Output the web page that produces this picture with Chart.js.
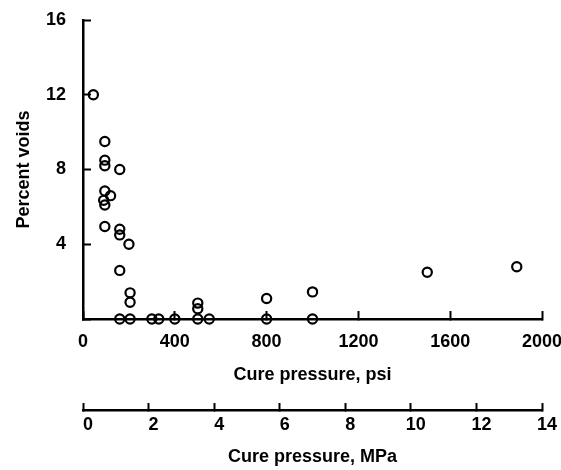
<!DOCTYPE html>
<html>
<head>
<meta charset="utf-8">
<script src="https://cdn.jsdelivr.net/npm/chart.js@4.4.1/dist/chart.umd.min.js"></script>
<style>
  html, body { margin: 0; padding: 0; background: #ffffff; }
  #wrap { width: 561px; height: 470px; }
</style>
</head>
<body>
<div id="wrap"><canvas id="c" width="561" height="470"></canvas></div>
<script>
// ---- data ----
const curePressurePsi = [45, 95, 95, 95, 160, 95, 120, 90, 95, 95, 160, 160, 200, 160, 205, 205,
  160, 205, 300, 330, 400, 500, 500, 500, 550, 800, 800, 1000, 1000, 1500, 1890];
const percentVoids = [12.0, 9.5, 8.5, 8.2, 8.0, 6.85, 6.6, 6.35, 6.1, 4.95, 4.8, 4.5, 4.0, 2.6, 1.4, 0.9,
  0, 0, 0, 0, 0, 0.85, 0.55, 0, 0, 1.1, 0, 1.45, 0, 2.5, 2.8];
const psiTickValues = [0, 400, 800, 1200, 1600, 2000];
const mpaTickValues = [0, 2, 4, 6, 8, 10, 12, 14];
const voidTickValues = [0, 4, 8, 12, 16];
const xTitle = 'Cure pressure, psi';
const x2Title = 'Cure pressure, MPa';
const yTitle = 'Percent voids';

const points = curePressurePsi.map((p, i) => ({ x: p, y: percentVoids[i] }));

const FONT = { family: "'Liberation Sans', Arial, Helvetica, sans-serif", size: 18, weight: 'bold', lineHeight: 1.2 };
const INK = '#000000';

// keep the chart area where the reference has it (labels may run to the edge)
const noAutoPad = (s) => { s.paddingLeft = 0; s.paddingRight = 0; s.paddingTop = 0; s.paddingBottom = 0; };
const plain = (v) => String(v);

new Chart(document.getElementById('c'), {
  type: 'scatter',
  data: {
    datasets: [{
      data: points,
      xAxisID: 'x',
      yAxisID: 'y',
      pointStyle: 'circle',
      pointRadius: 4.6,
      pointHoverRadius: 4.6,
      borderWidth: 2.2,
      borderColor: INK,
      backgroundColor: 'rgba(0,0,0,0)',
      clip: false
    }]
  },
  options: {
    responsive: false,
    animation: false,
    devicePixelRatio: 1,
    layout: { autoPadding: false, padding: { top: 20, left: 0, right: 19, bottom: 0 } },
    plugins: { legend: { display: false }, tooltip: { enabled: false } },
    scales: {
      x: {
        type: 'linear', position: 'bottom', weight: 0,
        min: psiTickValues[0], max: psiTickValues[psiTickValues.length - 1],
        afterBuildTicks: (s) => { s.ticks = psiTickValues.map(v => ({ value: v })); },
        afterFit: noAutoPad,
        ticks: { font: FONT, color: INK, padding: 20, maxRotation: 0, autoSkip: false, callback: plain },
        grid: { display: true, drawOnChartArea: false, drawTicks: true, tickLength: -8, tickWidth: 2, tickColor: INK },
        border: { display: true, color: INK, width: 2.5 },
        title: { display: true, text: xTitle, font: FONT, color: INK, padding: { top: -8.4, bottom: 24.2 } }
      },
      x2: {
        type: 'linear', axis: 'x', position: 'bottom', weight: 1,
        min: mpaTickValues[0], max: mpaTickValues[mpaTickValues.length - 1],
        afterBuildTicks: (s) => { s.ticks = mpaTickValues.map(v => ({ value: v })); },
        afterFit: noAutoPad,
        ticks: { font: FONT, color: INK, padding: 11, labelOffset: 5, maxRotation: 0, autoSkip: false, callback: plain },
        grid: { display: true, drawOnChartArea: false, drawTicks: true, tickLength: -7, tickWidth: 2, tickColor: INK },
        border: { display: true, color: INK, width: 2.5 },
        title: { display: true, text: x2Title, font: FONT, color: INK, padding: { top: 0, bottom: 1.8 } }
      },
      y: {
        type: 'linear', position: 'left',
        min: voidTickValues[0], max: voidTickValues[voidTickValues.length - 1],
        afterBuildTicks: (s) => { s.ticks = voidTickValues.map(v => ({ value: v })); },
        afterFit: noAutoPad,
        ticks: { font: FONT, color: INK, padding: 25, callback: (v) => (v === 0 ? '' : String(v)) },
        grid: { display: true, drawOnChartArea: false, drawTicks: true, tickLength: -8, tickWidth: 2, tickColor: INK },
        border: { display: true, color: INK, width: 2.5 },
        title: { display: true, text: yTitle, font: FONT, color: INK, padding: { top: 13.2, bottom: -13.8 } }
      }
    }
  }
});
</script>
</body>
</html>
